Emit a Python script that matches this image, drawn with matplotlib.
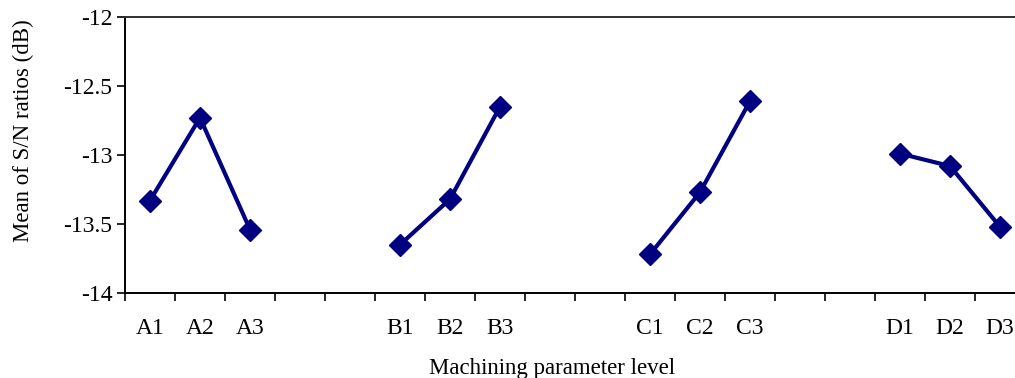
"""Main effects plot of mean S/N ratios per machining parameter level."""

import numpy as np
import matplotlib
matplotlib.use("Agg")
import matplotlib.pyplot as plt

# ---------------------------------------------------------------------
# Data
# ---------------------------------------------------------------------
CATEGORIES = ["A1", "A2", "A3", "", "",
              "B1", "B2", "B3", "", "",
              "C1", "C2", "C3", "", "",
              "D1", "D2", "D3"]

FACTOR_A = ["A1", "A2", "A3"]
FACTOR_B = ["B1", "B2", "B3"]
FACTOR_C = ["C1", "C2", "C3"]
FACTOR_D = ["D1", "D2", "D3"]

SN_A = [-13.33, -12.73, -13.54]
SN_B = [-13.65, -13.32, -12.65]
SN_C = [-13.72, -13.27, -12.61]
SN_D = [-12.99, -13.08, -13.52]

Y_TICKS = [-14, -13.5, -13, -12.5, -12]
Y_TICK_LABELS = ["-14", "-13.5", "-13", "-12.5", "-12"]

COLOR = "#000080"

plt.rcParams["font.family"] = ["Liberation Serif", "DejaVu Serif"]

fig = plt.figure(figsize=(10.15, 3.78), dpi=100)
W, H = 1015, 378
ax = fig.add_axes([125 / W, 85 / H, 900 / W, 276 / H])

pos = {name: i for i, name in enumerate(CATEGORIES) if name}
for names, values in [(FACTOR_A, SN_A), (FACTOR_B, SN_B),
                      (FACTOR_C, SN_C), (FACTOR_D, SN_D)]:
    x = [pos[n] for n in names]
    ax.plot(x, values, color=COLOR, linewidth=3, marker="D",
            markersize=11, clip_on=False)

ax.set_xlim(-0.5, len(CATEGORIES) - 0.5)
ax.set_ylim(-14, -12)

# category labels centred, tick marks on category boundaries
ax.set_xticks(np.arange(len(CATEGORIES)))
ax.set_xticklabels(CATEGORIES, fontsize=17)
ax.tick_params(axis="x", which="major", length=0, pad=18)
ax.set_xticks(np.arange(len(CATEGORIES)) - 0.5, minor=True)
ax.tick_params(axis="x", which="minor", length=6, width=1.2, direction="out")

ax.set_yticks(Y_TICKS)
ax.set_yticklabels(Y_TICK_LABELS, fontsize=17)
ax.tick_params(axis="y", length=6, width=1.2, direction="out", pad=3)

ax.spines["right"].set_visible(False)
ax.spines["top"].set_color("#303030")
for side in ["left", "bottom", "top"]:
    ax.spines[side].set_linewidth(1.4)

fig.text(23 / W, 1 - 131 / H, "Mean of S/N ratios (dB)", fontsize=16.5,
         rotation=90, ha="center", va="center")
fig.text(552 / W, 1 - 374 / H, "Machining parameter level",
         fontsize=16.5, ha="center", va="baseline")

fig.savefig("out.png", dpi=100)
